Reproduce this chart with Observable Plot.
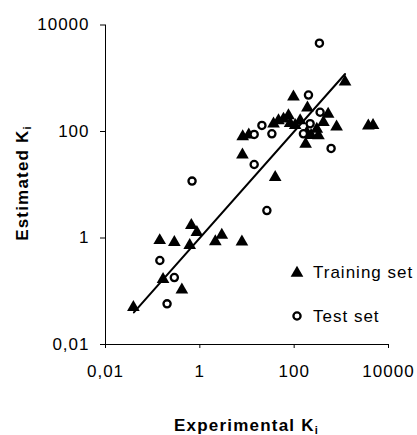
<!DOCTYPE html>
<html><head><meta charset="utf-8">
<script src="https://cdn.jsdelivr.net/npm/d3@7"></script>
<script src="https://cdn.jsdelivr.net/npm/@observablehq/plot@0.6"></script>
<style>body{margin:0;background:#fff}</style>
</head><body><div id="chart"></div>
<script>
// Training set (triangles)
const trainingX = [0.039, 0.141, 0.288, 0.61, 0.66, 0.865, 0.166, 0.416, 2.13, 2.92, 7.8, 39.6, 8.0, 8.1, 10.9, 36.5, 46.5, 59.4, 75.7, 96.6, 134, 105, 191, 525, 417, 793, 302, 186, 327, 175, 1200, 3735, 4700, 229, 82];
const trainingY = [0.050, 0.90, 0.83, 0.73, 1.73, 1.28, 0.167, 0.106, 0.86, 1.13, 0.85, 13.8, 36.5, 80, 87, 139, 160, 172, 199, 448, 160, 130, 278, 213, 149, 122, 111, 96, 84, 58, 858, 128, 130, 85, 142];
// Test set (circles)
const testX = [0.142, 0.288, 0.202, 0.684, 14.2, 26.4, 14.2, 20.7, 33.7, 201, 355, 218, 157, 607, 343];
const testY = [0.378, 0.181, 0.058, 11.7, 24.0, 3.28, 87.9, 130, 90.6, 484, 230, 140, 90.6, 48, 4550];
// Regression line
const fitX = [0.04, 1200];
const fitY = [0.04, 1200];
// Axes
const tickValues = [0.01, 1, 100, 10000];
const tickLabels = ["0,01", "1", "100", "10000"];
const xTitle = "Experimental K";
const yTitle = "Estimated K";
const subscript = "i";
const legendLabels = ["Training set", "Test set"];

const training = trainingX.map((x, i) => ({x, y: trainingY[i]}));
const test = testX.map((x, i) => ({x, y: testY[i]}));
const fit = fitX.map((x, i) => ({x, y: fitY[i]}));
const fmt = d => tickLabels[tickValues.indexOf(d)];
const font = "'Liberation Sans', Arial, sans-serif";

const plot = Plot.plot({
  width: 417, height: 435,
  marginLeft: 105, marginRight: 29, marginTop: 24.5, marginBottom: 91,
  style: {fontFamily: font, fontSize: "17px", color: "#000", background: "#fff", letterSpacing: "1px"},
  x: {type: "log", domain: [0.01, 10000], axis: null},
  y: {type: "log", domain: [0.01, 10000], axis: null},
  marks: [
    Plot.axisX({ticks: tickValues, tickFormat: fmt, tickSize: 4, tickPadding: 16, label: null, stroke: "#000"}),
    Plot.axisY({ticks: tickValues, tickFormat: fmt, tickSize: 5, tickPadding: 11, label: null, stroke: "#000"}),
    Plot.ruleY([0.01], {stroke: "#000"}),
    Plot.ruleX([0.01], {stroke: "#000"}),
    Plot.line(fit, {x: "x", y: "y", stroke: "#000", strokeWidth: 2}),
    Plot.dot(training, {x: "x", y: "y", symbol: "triangle", r: 4.7, fill: "#000", stroke: "none"}),
    Plot.dot(test, {x: "x", y: "y", symbol: "circle", r: 3.6, fill: "#fff", stroke: "#000", strokeWidth: 2.3})
  ]
});

const svg = d3.select(plot);
// X title
const xt = svg.append("text").attr("x", 246.5).attr("y", 431).attr("text-anchor", "middle")
  .attr("font-weight", "bold").attr("font-size", "17px").attr("letter-spacing", "1.2px");
xt.append("tspan").text(xTitle);
xt.append("tspan").attr("font-size", "11px").attr("dy", "3").text(subscript);
// Y title
const yt = svg.append("text").attr("transform", "translate(28,183) rotate(-90)").attr("text-anchor", "middle")
  .attr("font-weight", "bold").attr("font-size", "17px").attr("letter-spacing", "1.2px");
yt.append("tspan").text(yTitle);
yt.append("tspan").attr("font-size", "11px").attr("dy", "3").text(subscript);
// Legend
const lg = svg.append("g");
lg.append("path").attr("transform", "translate(297,273)").attr("d", d3.symbol(d3.symbolTriangle, 70)()).attr("fill", "#000");
lg.append("text").attr("x", 313).attr("y", 278).attr("text-anchor", "start").text(legendLabels[0]);
lg.append("circle").attr("cx", 297).attr("cy", 316).attr("r", 3.6).attr("fill", "#fff").attr("stroke", "#000").attr("stroke-width", 2.3);
lg.append("text").attr("x", 313).attr("y", 322).attr("text-anchor", "start").text(legendLabels[1]);

document.getElementById("chart").appendChild(plot);
</script>
</body></html>
